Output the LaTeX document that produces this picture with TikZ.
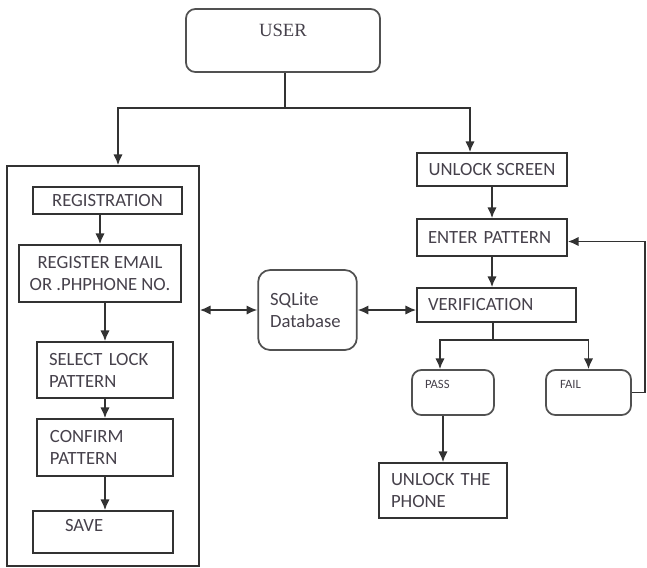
\documentclass[tikz,border=0pt]{standalone}
\usepackage{fontspec}
\setmainfont{Carlito}
\newfontfamily\userfont{Liberation Serif}
\usepackage{xcolor}
\usetikzlibrary{arrows.meta,positioning}
\definecolor{lineagris}{RGB}{50,50,50}
\definecolor{textogris}{RGB}{70,65,75}

\begin{document}
\begin{tikzpicture}[x=0.75pt,y=-0.75pt,
  caja/.style={draw=lineagris,line width=1.3pt,inner sep=0pt,text=textogris,
               font=\fontsize{14}{16.5}\selectfont,align=center},
  cajar/.style={caja,draw=lineagris!85,rounded corners=7pt},
  izq/.style={align=left},
  ar/.style={-{Latex[length=8pt,width=7pt]},line width=1.3pt,lineagris},
  ard/.style={{Latex[length=8pt,width=7pt]}-{Latex[length=8pt,width=7pt]},line width=1.3pt,lineagris},
  ln/.style={line width=1.3pt,lineagris}
]
\useasboundingbox (0,0) rectangle (647,568);

\node[cajar,minimum width=145.5pt,minimum height=47.25pt,text depth=15.75pt,
      font=\userfont\fontsize{14}{16}\selectfont] (user) at (283,40.5) {USER};

% left block
\node[caja,minimum width=144pt,minimum height=300pt] (marco) at (103,366) {};
\node[caja,minimum width=111.75pt,minimum height=20.25pt] (reg) at (107.5,200.5) {REGISTRATION};
\node[caja,minimum width=121.5pt,minimum height=42.75pt] (regmail) at (100,273.5)
  {REGISTER EMAIL\\OR .PHPHONE NO.};
\node[caja,izq,text width=84pt,inner xsep=9pt,minimum height=42pt] (sel) at (105,370)
  {SELECT LOCK\\PATTERN};
\node[caja,izq,text width=82.5pt,inner xsep=9.75pt,minimum height=42.75pt] (conf) at (105,447.5)
  {CONFIRM\\PATTERN};
\node[caja,izq,text width=57pt,inner xsep=24pt,minimum height=31.5pt,text depth=10.5pt] (save) at (103,532) {SAVE};

% database
\node[caja,izq,draw=lineagris!85,rounded corners=9pt,text width=56pt,inner xsep=9pt,minimum height=60pt] (db) at (307.5,310)
  {SQLite\\Database};

% right block
\node[caja,minimum width=112.5pt,minimum height=24.75pt] (unl) at (492,169.5) {UNLOCK SCREEN};
\node[caja,izq,text width=96pt,inner xsep=8.25pt,minimum height=27.75pt] (ent) at (492,237.5) {ENTER PATTERN};
\node[caja,izq,text width=102.75pt,inner xsep=8.25pt,minimum height=25.5pt] (ver) at (496.5,305) {VERIFICATION};
\node[cajar,izq,text width=42pt,inner xsep=9.75pt,minimum height=33.75pt,text depth=12.75pt,
      font=\fontsize{9.5}{11}\selectfont] (pass) at (453,392.5) {PASS};
\node[cajar,izq,text width=42.75pt,inner xsep=10.5pt,minimum height=33.75pt,text depth=12.75pt,
      font=\fontsize{9.5}{11}\selectfont] (fail) at (588.5,392.5) {FAIL};
\node[caja,izq,text width=78pt,inner xsep=9pt,minimum height=41.25pt] (unph) at (443,490.5)
  {UNLOCK THE\\PHONE};

\coordinate (jn) at (285,108);
\coordinate (vs) at (493,340);

\draw[ln] (jn |- user.south) -- (jn);
\draw[ar] (jn) -| ([xshift=11.25pt]marco.north);
\draw[ar] (jn) -| ([xshift=-16.5pt]unl.north);

\draw[ar] (regmail.north |- reg.south) -- (regmail.north);
\draw[ar] (sel.north |- regmail.south) -- (sel.north);
\draw[ar] (sel) -- (conf);
\draw[ar] (conf.south) -- (conf.south |- save.north);

\draw[ard] (db.west -| marco.east) -- (db.west);
\draw[ard] (db.east) -- (db.east -| ver.west);

\draw[ar] (unl) -- (ent);
\draw[ar] (ent.south) -- (ent.south |- ver.north);
\draw[ln] (vs |- ver.south) -- (vs);
\draw[ar] (vs) -| ([xshift=-9.75pt]pass.north);
\draw[ar] (vs) -| (fail.north);
\draw[ar] (unph.north |- pass.south) -- (unph.north);
\draw[ar] (fail.east) -- ++(13,0) |- ([yshift=-3pt]ent.east);
\end{tikzpicture}
\end{document}
